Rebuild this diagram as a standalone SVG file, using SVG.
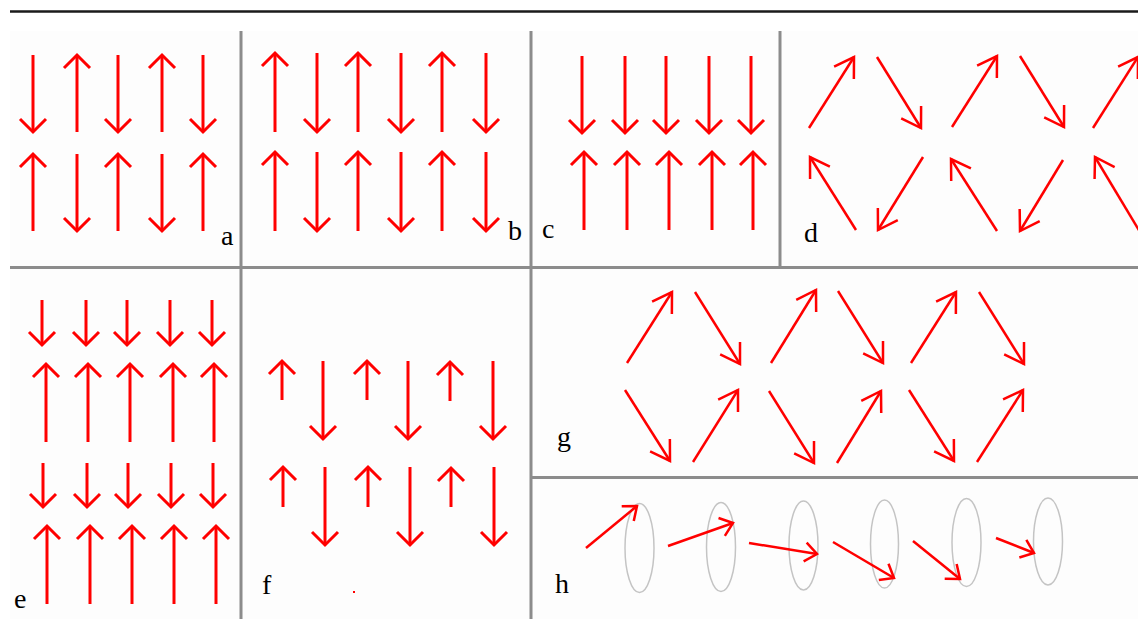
<svg xmlns="http://www.w3.org/2000/svg" width="1138" height="619" viewBox="0 0 1138 619">
<defs>
<style>
.v{stroke:#ff0000;stroke-width:3;fill:none;marker-end:url(#av)}
.d{stroke:#ff0000;stroke-width:2.5;fill:none;marker-end:url(#ad)}
.h{stroke:#ff0000;stroke-width:2.5;fill:none;marker-end:url(#ah)}
.grid{stroke:#8c8c8c;stroke-width:3;fill:none}
.ell{stroke:#c4c4c4;stroke-width:1.5;fill:none}
.lbl{font-family:"Liberation Serif","Times New Roman",serif;font-size:28px;fill:#000}
</style>
<marker id="av" markerUnits="userSpaceOnUse" markerWidth="40" markerHeight="40" viewBox="-20 -20 40 40" refX="0" refY="0" orient="auto" overflow="visible">
<path d="M-13,-13 L0,0 L-13,13" fill="none" stroke="#ff0000" stroke-width="3"/>
</marker>
<marker id="ad" markerUnits="userSpaceOnUse" markerWidth="50" markerHeight="50" viewBox="-25 -25 50 50" refX="0" refY="0" orient="auto" overflow="visible">
<path d="M-18.7,-11.7 L0,0 L-18.7,11.7" fill="none" stroke="#ff0000" stroke-width="2.5"/>
</marker>
<marker id="ah" markerUnits="userSpaceOnUse" markerWidth="40" markerHeight="40" viewBox="-20 -20 40 40" refX="0" refY="0" orient="auto" overflow="visible">
<path d="M-12,-9.5 L0,0 L-12,9.5" fill="none" stroke="#ff0000" stroke-width="2.5"/>
</marker>
</defs>
<rect x="0" y="0" width="1138" height="619" fill="#ffffff"/>
<rect x="10" y="31" width="1128" height="588" fill="#fdfdfd"/>
<line x1="10" y1="11.5" x2="1138" y2="11.5" stroke="#1a1a1a" stroke-width="2.5"/>
<g id="grid">
<line class="grid" x1="241" y1="31" x2="241" y2="619"/>
<line class="grid" x1="531" y1="31" x2="531" y2="619"/>
<line class="grid" x1="780" y1="31" x2="780" y2="267"/>
<line class="grid" x1="10" y1="267.5" x2="1138" y2="267.5"/>
<line class="grid" x1="531" y1="477.5" x2="1138" y2="477.5"/>
</g>
<g id="panel-a">
<line class="v" x1="33" y1="55" x2="33" y2="132"/>
<line class="v" x1="77" y1="132" x2="77" y2="55"/>
<line class="v" x1="118" y1="55" x2="118" y2="132"/>
<line class="v" x1="162" y1="132" x2="162" y2="55"/>
<line class="v" x1="203" y1="55" x2="203" y2="132"/>
<line class="v" x1="33" y1="231" x2="33" y2="154"/>
<line class="v" x1="77" y1="154" x2="77" y2="231"/>
<line class="v" x1="118" y1="231" x2="118" y2="154"/>
<line class="v" x1="162" y1="154" x2="162" y2="231"/>
<line class="v" x1="203" y1="231" x2="203" y2="154"/>
<text class="lbl" x="221" y="245">a</text>
</g>
<g id="panel-b">
<line class="v" x1="275" y1="132" x2="275" y2="53"/>
<line class="v" x1="317" y1="53" x2="317" y2="132"/>
<line class="v" x1="358" y1="132" x2="358" y2="53"/>
<line class="v" x1="401" y1="53" x2="401" y2="132"/>
<line class="v" x1="442" y1="132" x2="442" y2="53"/>
<line class="v" x1="486" y1="53" x2="486" y2="132"/>
<line class="v" x1="275" y1="231" x2="275" y2="152"/>
<line class="v" x1="317" y1="152" x2="317" y2="231"/>
<line class="v" x1="358" y1="231" x2="358" y2="152"/>
<line class="v" x1="401" y1="152" x2="401" y2="231"/>
<line class="v" x1="442" y1="231" x2="442" y2="152"/>
<line class="v" x1="486" y1="152" x2="486" y2="231"/>
<text class="lbl" x="508" y="240">b</text>
</g>
<g id="panel-c">
<line class="v" x1="582" y1="56" x2="582" y2="133"/>
<line class="v" x1="625" y1="56" x2="625" y2="133"/>
<line class="v" x1="666" y1="56" x2="666" y2="133"/>
<line class="v" x1="709" y1="56" x2="709" y2="133"/>
<line class="v" x1="751" y1="56" x2="751" y2="133"/>
<line class="v" x1="584" y1="230" x2="584" y2="152"/>
<line class="v" x1="627" y1="230" x2="627" y2="152"/>
<line class="v" x1="669" y1="230" x2="669" y2="152"/>
<line class="v" x1="712" y1="230" x2="712" y2="152"/>
<line class="v" x1="753" y1="230" x2="753" y2="152"/>
<text class="lbl" x="542" y="238">c</text>
</g>
<g id="panel-d">
<line class="d" x1="809" y1="128" x2="854" y2="57"/>
<line class="d" x1="877" y1="57" x2="921" y2="128"/>
<line class="d" x1="952" y1="127" x2="997" y2="56"/>
<line class="d" x1="1020" y1="56" x2="1064" y2="127"/>
<line class="d" x1="1093" y1="128" x2="1138" y2="57"/>
<line class="d" x1="856" y1="230" x2="810" y2="157"/>
<line class="d" x1="923" y1="157" x2="878" y2="230"/>
<line class="d" x1="997" y1="231" x2="951" y2="159"/>
<line class="d" x1="1063" y1="160" x2="1020" y2="231"/>
<line class="d" x1="1140" y1="232" x2="1095" y2="157"/>
<text class="lbl" x="804" y="242">d</text>
</g>
<g id="panel-e">
<line class="v" x1="42" y1="300" x2="42" y2="345"/>
<line class="v" x1="86" y1="300" x2="86" y2="345"/>
<line class="v" x1="127" y1="300" x2="127" y2="345"/>
<line class="v" x1="170" y1="300" x2="170" y2="345"/>
<line class="v" x1="212" y1="300" x2="212" y2="345"/>
<line class="v" x1="46" y1="442" x2="46" y2="364"/>
<line class="v" x1="88" y1="442" x2="88" y2="364"/>
<line class="v" x1="130" y1="442" x2="130" y2="364"/>
<line class="v" x1="173" y1="442" x2="173" y2="364"/>
<line class="v" x1="214" y1="442" x2="214" y2="364"/>
<line class="v" x1="43" y1="463" x2="43" y2="507"/>
<line class="v" x1="87" y1="463" x2="87" y2="507"/>
<line class="v" x1="128" y1="463" x2="128" y2="507"/>
<line class="v" x1="171" y1="463" x2="171" y2="507"/>
<line class="v" x1="213" y1="463" x2="213" y2="507"/>
<line class="v" x1="47" y1="604" x2="47" y2="526"/>
<line class="v" x1="90" y1="604" x2="90" y2="526"/>
<line class="v" x1="132" y1="604" x2="132" y2="526"/>
<line class="v" x1="174" y1="604" x2="174" y2="526"/>
<line class="v" x1="216" y1="604" x2="216" y2="526"/>
<text class="lbl" x="14" y="608">e</text>
</g>
<g id="panel-f">
<line class="v" x1="282" y1="400" x2="282" y2="361"/>
<line class="v" x1="367" y1="400" x2="367" y2="361"/>
<line class="v" x1="450" y1="401" x2="450" y2="362"/>
<line class="v" x1="323" y1="361" x2="323" y2="439"/>
<line class="v" x1="408" y1="361" x2="408" y2="439"/>
<line class="v" x1="493" y1="361" x2="493" y2="439"/>
<line class="v" x1="283" y1="507" x2="283" y2="467"/>
<line class="v" x1="368" y1="507" x2="368" y2="467"/>
<line class="v" x1="451" y1="507" x2="451" y2="468"/>
<line class="v" x1="325" y1="467" x2="325" y2="545"/>
<line class="v" x1="410" y1="467" x2="410" y2="545"/>
<line class="v" x1="494" y1="467" x2="494" y2="545"/>
<rect x="353" y="591" width="2" height="2" fill="#ff0000"/>
<text class="lbl" x="262" y="594">f</text>
</g>
<g id="panel-g">
<line class="d" x1="627" y1="363" x2="672" y2="292"/>
<line class="d" x1="695" y1="292" x2="740" y2="364"/>
<line class="d" x1="771" y1="363" x2="816" y2="290"/>
<line class="d" x1="838" y1="291" x2="883" y2="363"/>
<line class="d" x1="911" y1="363" x2="956" y2="292"/>
<line class="d" x1="979" y1="292" x2="1024" y2="364"/>
<line class="d" x1="625" y1="390" x2="670" y2="461"/>
<line class="d" x1="693" y1="462" x2="738" y2="390"/>
<line class="d" x1="769" y1="391" x2="814" y2="463"/>
<line class="d" x1="837" y1="463" x2="881" y2="391"/>
<line class="d" x1="909" y1="390" x2="954" y2="461"/>
<line class="d" x1="977" y1="462" x2="1023" y2="390"/>
<text class="lbl" x="557" y="446">g</text>
</g>
<g id="panel-h">
<ellipse class="ell" cx="639.5" cy="548" rx="14.5" ry="44.5"/>
<ellipse class="ell" cx="721" cy="547" rx="14.5" ry="44.5"/>
<ellipse class="ell" cx="803.5" cy="545.5" rx="14.5" ry="44.5"/>
<ellipse class="ell" cx="884.5" cy="544" rx="14" ry="44"/>
<ellipse class="ell" cx="966.5" cy="542.5" rx="14.5" ry="44"/>
<ellipse class="ell" cx="1048" cy="541.5" rx="14.5" ry="43.5"/>
<line class="h" x1="586" y1="548" x2="637" y2="506"/>
<line class="h" x1="668" y1="546" x2="733" y2="523"/>
<line class="h" x1="749" y1="543" x2="817" y2="554"/>
<line class="h" x1="833" y1="542" x2="894" y2="578"/>
<line class="h" x1="913" y1="541" x2="960" y2="579"/>
<line class="h" x1="996" y1="538" x2="1034" y2="553"/>
<text class="lbl" x="555" y="593">h</text>
</g>
</svg>
